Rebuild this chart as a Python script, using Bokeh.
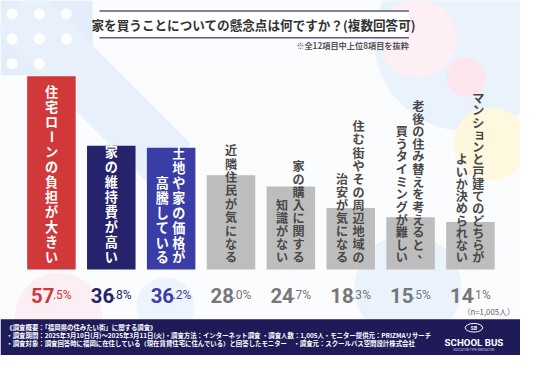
import math
from bokeh.plotting import figure
from bokeh.models import Range1d
from bokeh.core.properties import value
from bokeh.embed import file_html
from bokeh.resources import INLINE

# ---------------- data ----------------
labels = [
    "住宅ローンの負担が大きい",
    "家の維持費が高い",
    "土地や家の価格が\n高騰している",
    "近隣住民が気になる",
    "家の購入に関する\n知識がない",
    "住む街やその周辺地域の\n治安が気になる",
    "老後の住み替えを考えると、\n買うタイミングが難しい",
    "マンションと戸建てのどちらが\nよいか決められない",
]
values = [57.5, 36.8, 36.2, 28.0, 24.7, 18.3, 15.5, 14.1]
title = "家を買うことについての懸念点は何ですか？(複数回答可)"
note = "※全12項目中上位8項目を抜粋"
n_note = "（n=1,005人）"
footer_lines = [
    "《調査概要：「福岡県の住みたい街」に関する調査》",
    "・調査期間：2025年3月10日(月)～2025年3月11日(火)・調査方法：インターネット調査 ・調査人数：1,005人・モニター提供元：PRIZMAリサーチ",
    "・調査対象：調査回答時に福岡に在住している（現在賃貸住宅に住んでいる）と回答したモニター　・調査元：スクールバス空間設計株式会社",
]

# ---------------- styles ----------------
bar_colors = ["#D0383A", "#24236C", "#3A3DA6", "#BDBDBD", "#BDBDBD", "#BDBDBD", "#BDBDBD", "#BDBDBD"]
val_colors = ["#D0383A", "#24236C", "#3A3DA6", "#777777", "#777777", "#777777", "#777777", "#777777"]
lab_colors = ["#FFFFFF", "#FFFFFF", "#FFFFFF", "#484848", "#484848", "#484848", "#484848", "#484848"]
lab_bold = [True, True, True, False, False, False, False, False]
char_step = [15.7, 15.7, 15.6, 14.0, 13.6, 13.7, 13.2, 12.8]

W, H = 520, 355
RW, RH = 536, 371
SC = W / RW
XS, X0 = 61.7, 52.5      # reference px per category, px of category 0
YS, Y0 = 3.51, 281.0     # reference px per percent, px of zero line


def X(px):
    return (px - X0) / XS


def Y(py):
    return (Y0 - py) / YS


def fs(px):
    return f"{px * SC:.1f}px"


JP = value("Noto Sans CJK JP")

p = figure(width=W, height=H, output_backend="svg", toolbar_location=None,
           x_range=Range1d(X(0), X(RW)), y_range=Range1d(Y(RH), Y(0)),
           min_border=0, border_fill_color="#FBFCFE", background_fill_color="#FBFCFE")
p.axis.visible = False
p.grid.visible = False
p.outline_line_color = None

# ---------------- decorative background ----------------
p.quad(left=X(0), right=X(95), top=Y(0), bottom=Y(78), color="#E4EEFA", line_color=None)
p.rect(x=X(95), y=Y(90), width=60 / XS, height=230 / YS, angle=math.pi / 4,
       color="#E8F1FB", line_color=None)
dx = [X(12), X(40), X(68), X(12), X(40), X(68), X(12), X(40)]
dy = [Y(14), Y(14), Y(14), Y(40), Y(40), Y(40), Y(66), Y(66)]
p.scatter(x=dx, y=dy, size=11, color="#FFFFFF", line_color=None)
p.circle(x=[X(480)], y=[Y(40)], radius=95 / XS, color="#EAF3FC", line_color=None)
p.circle(x=[X(430)], y=[Y(40)], radius=40 / XS, color="#FDEFF3", line_color=None)
p.circle(x=[X(480)], y=[Y(80)], radius=20 / XS, color="#FCE5EC", line_color=None)
p.circle(x=[X(505)], y=[Y(150)], radius=38 / XS, color="#FDF8DE", line_color=None)
p.circle(x=[X(420)], y=[Y(300)], radius=55 / XS, color="#EAF3FC", line_color=None)
p.circle(x=[X(170)], y=[Y(320)], radius=30 / XS, color="#EEF4FC", line_color=None)
p.circle(x=[X(60)], y=[Y(330)], radius=45 / XS, color="#FCEFF3", line_color=None)

# ---------------- title ----------------
p.quad(left=X(102), right=X(421), top=Y(11), bottom=Y(39), color="#FFFFFF", line_color=None)
p.segment(x0=[X(102), X(102)], y0=[Y(11), Y(39)], x1=[X(421), X(421)], y1=[Y(11), Y(39)],
          line_color="#5B5B82", line_width=1.5)
p.text(x=[X(261)], y=[Y(25)], text=[title], text_font=JP, text_font_size=fs(13),
       text_font_style="bold", text_color="#333333", text_align="center", text_baseline="middle")
p.text(x=[X(421)], y=[Y(47)], text=[note], text_font=JP, text_font_size=fs(8.5),
       text_font_style="bold", text_color="#555555", text_align="right", text_baseline="middle")

# ---------------- bars ----------------
idx = list(range(len(values)))
p.vbar(x=idx, top=values, bottom=0, width=50 / XS, color=bar_colors, line_color=None)

# ---------------- vertical labels ----------------
src_bold = dict(x=[], y=[], t=[], c=[], a=[])
src_norm = dict(x=[], y=[], t=[], c=[], a=[])
for i, lab in enumerate(labels):
    cols = lab.split("\n")
    offs = [0.0] if len(cols) == 1 else [8.0, -9.0]
    step = char_step[i]
    d = src_bold if lab_bold[i] else src_norm
    for col, off in zip(cols, offs):
        n = len(col)
        for j, ch in enumerate(col):
            py = 268 - (n - 1 - j) * step
            xo, yo, ang = 0.0, 0.0, 0.0
            if ch == "ー":
                ang = math.pi / 2
            elif ch in "、。":
                xo, yo = 5.0, -5.0
            elif ch in "ョッャュ":
                xo, yo = 1.5, -1.5
            d["x"].append(i + (off + xo) / XS)
            d["y"].append(Y(py + yo))
            d["t"].append(ch)
            d["c"].append(lab_colors[i])
            d["a"].append(ang)

p.text(x="x", y="y", text="t", angle="a", source=src_bold, text_font=JP, text_font_size=fs(13.5),
       text_font_style="bold", text_color="c", text_align="center", text_baseline="middle")
p.text(x="x", y="y", text="t", angle="a", source=src_norm, text_font=JP, text_font_size=fs(12.5),
       text_font_style="bold", text_color="c", text_align="center", text_baseline="middle")

# ---------------- value labels ----------------
int_part, dec_part = [], []
for v in values:
    a, b = f"{v:.1f}".split(".")
    int_part.append(a)
    dec_part.append("." + b + "%")
vx_i = [i + 3 / XS for i in idx]
vx_d = [i + 1.5 / XS for i in idx]
vy = [Y(308)] * len(values)
p.text(x=vx_i, y=vy, text=int_part, text_font=value("Roboto"), text_font_size=fs(21),
       text_font_style="bold", text_color=val_colors, text_align="right", text_baseline="alphabetic")
p.text(x=vx_d, y=vy, text=dec_part, text_font=value("Roboto"), text_font_size=fs(12.5),
       text_color=val_colors, text_align="left", text_baseline="alphabetic")

p.text(x=[X(530)], y=[Y(325)], text=[n_note], text_font=JP, text_font_size=fs(8),
       text_color="#666666", text_align="right", text_baseline="middle")

# ---------------- footer ----------------
p.quad(left=X(0), right=X(RW), top=Y(333), bottom=Y(RH), color="#1E1B58", line_color=None)
p.text(x=[X(6)] * 3, y=[Y(342), Y(350), Y(358)], text=footer_lines, text_font=JP,
       text_font_size=fs(6.6), text_font_style="bold", text_color="#FFFFFF",
       text_align="left", text_baseline="middle")
p.ellipse(x=[X(488)], y=[Y(342)], width=18 / XS, height=9 / YS, fill_color=None,
          line_color="#FFFFFF", line_width=1)
p.text(x=[X(488)], y=[Y(342)], text=["SB"], text_font=value("Roboto"), text_font_size=fs(5),
       text_font_style="bold", text_color="#FFFFFF", text_align="center", text_baseline="middle")
p.text(x=[X(488)], y=[Y(357)], text=["SCHOOL BUS"], text_font=value("Roboto"), text_font_size=fs(10),
       text_font_style="bold", text_color="#FFFFFF", text_align="center", text_baseline="middle")
p.text(x=[X(488)], y=[Y(365)], text=["EDUCATION TYPE INNOVATION"], text_font=value("Roboto"),
       text_font_size=fs(3), text_color="#C8C8E0", text_align="center", text_baseline="middle")

open("out.html", "w").write(file_html(p, INLINE))
